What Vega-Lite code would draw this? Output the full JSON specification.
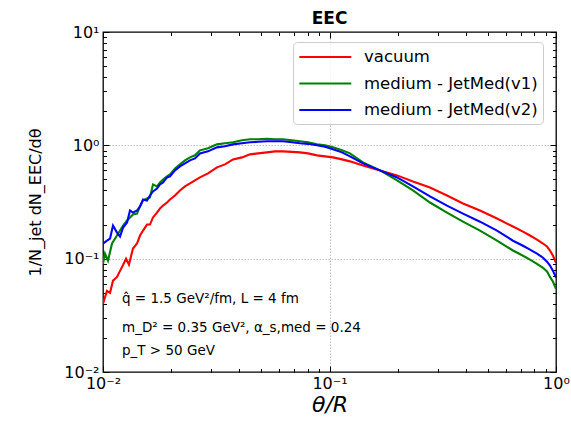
{
  "$schema": "https://vega.github.io/schema/vega-lite/v6.json",
  "width": 453,
  "height": 340,
  "autosize": {"type": "none"},
  "padding": {"left": 103, "top": 32, "right": 15, "bottom": 51},
  "background": "white",
  "config": {
    "font": "DejaVu Sans",
    "view": {"stroke": "black", "strokeWidth": 1.3}
  },
  "title": {"text": "EEC", "fontSize": 17, "fontWeight": "bold", "font": "DejaVu Sans", "color": "black", "offset": -4, "anchor": "middle"},
  "data": {"values": [
    {"t": 0.01, "v": 0.040, "s": "vacuum"},
    {"t": 0.01041, "v": 0.052, "s": "vacuum"},
    {"t": 0.01074, "v": 0.050, "s": "vacuum"},
    {"t": 0.01107, "v": 0.064, "s": "vacuum"},
    {"t": 0.01153, "v": 0.069, "s": "vacuum"},
    {"t": 0.01189, "v": 0.078, "s": "vacuum"},
    {"t": 0.01226, "v": 0.088, "s": "vacuum"},
    {"t": 0.01264, "v": 0.100, "s": "vacuum"},
    {"t": 0.01302, "v": 0.0885, "s": "vacuum"},
    {"t": 0.01356, "v": 0.123, "s": "vacuum"},
    {"t": 0.01413, "v": 0.136, "s": "vacuum"},
    {"t": 0.01457, "v": 0.160, "s": "vacuum"},
    {"t": 0.01502, "v": 0.177, "s": "vacuum"},
    {"t": 0.01564, "v": 0.200, "s": "vacuum"},
    {"t": 0.01612, "v": 0.200, "s": "vacuum"},
    {"t": 0.01662, "v": 0.231, "s": "vacuum"},
    {"t": 0.01731, "v": 0.255, "s": "vacuum"},
    {"t": 0.01785, "v": 0.277, "s": "vacuum"},
    {"t": 0.01841, "v": 0.294, "s": "vacuum"},
    {"t": 0.01917, "v": 0.313, "s": "vacuum"},
    {"t": 0.01976, "v": 0.333, "s": "vacuum"},
    {"t": 0.02079, "v": 0.361, "s": "vacuum"},
    {"t": 0.02187, "v": 0.400, "s": "vacuum"},
    {"t": 0.02301, "v": 0.434, "s": "vacuum"},
    {"t": 0.02421, "v": 0.461, "s": "vacuum"},
    {"t": 0.02547, "v": 0.490, "s": "vacuum"},
    {"t": 0.02680, "v": 0.521, "s": "vacuum"},
    {"t": 0.02908, "v": 0.565, "s": "vacuum"},
    {"t": 0.03186, "v": 0.639, "s": "vacuum"},
    {"t": 0.03456, "v": 0.679, "s": "vacuum"},
    {"t": 0.03749, "v": 0.752, "s": "vacuum"},
    {"t": 0.04109, "v": 0.783, "s": "vacuum"},
    {"t": 0.04457, "v": 0.832, "s": "vacuum"},
    {"t": 0.04834, "v": 0.849, "s": "vacuum"},
    {"t": 0.05296, "v": 0.867, "s": "vacuum"},
    {"t": 0.05744, "v": 0.885, "s": "vacuum"},
    {"t": 0.06231, "v": 0.885, "s": "vacuum"},
    {"t": 0.06830, "v": 0.876, "s": "vacuum"},
    {"t": 0.07408, "v": 0.867, "s": "vacuum"},
    {"t": 0.08035, "v": 0.849, "s": "vacuum"},
    {"t": 0.08807, "v": 0.816, "s": "vacuum"},
    {"t": 0.09553, "v": 0.799, "s": "vacuum"},
    {"t": 0.1036, "v": 0.783, "s": "vacuum"},
    {"t": 0.1135, "v": 0.752, "s": "vacuum"},
    {"t": 0.1231, "v": 0.722, "s": "vacuum"},
    {"t": 0.1405, "v": 0.665, "s": "vacuum"},
    {"t": 0.1671, "v": 0.601, "s": "vacuum"},
    {"t": 0.1987, "v": 0.543, "s": "vacuum"},
    {"t": 0.2336, "v": 0.480, "s": "vacuum"},
    {"t": 0.2777, "v": 0.425, "s": "vacuum"},
    {"t": 0.3302, "v": 0.361, "s": "vacuum"},
    {"t": 0.3885, "v": 0.307, "s": "vacuum"},
    {"t": 0.4618, "v": 0.266, "s": "vacuum"},
    {"t": 0.5489, "v": 0.226, "s": "vacuum"},
    {"t": 0.6457, "v": 0.192, "s": "vacuum"},
    {"t": 0.7149, "v": 0.173, "s": "vacuum"},
    {"t": 0.7676, "v": 0.160, "s": "vacuum"},
    {"t": 0.8243, "v": 0.147, "s": "vacuum"},
    {"t": 0.8761, "v": 0.136, "s": "vacuum"},
    {"t": 0.9126, "v": 0.128, "s": "vacuum"},
    {"t": 0.9408, "v": 0.118, "s": "vacuum"},
    {"t": 0.9700, "v": 0.106, "s": "vacuum"},
    {"t": 1.0, "v": 0.092, "s": "vacuum"},

    {"t": 0.01, "v": 0.090, "s": "medium - JetMed(v1)"},
    {"t": 0.010205, "v": 0.111, "s": "medium - JetMed(v1)"},
    {"t": 0.01052, "v": 0.096, "s": "medium - JetMed(v1)"},
    {"t": 0.01096, "v": 0.136, "s": "medium - JetMed(v1)"},
    {"t": 0.01153, "v": 0.160, "s": "medium - JetMed(v1)"},
    {"t": 0.01189, "v": 0.177, "s": "medium - JetMed(v1)"},
    {"t": 0.01226, "v": 0.196, "s": "medium - JetMed(v1)"},
    {"t": 0.01277, "v": 0.217, "s": "medium - JetMed(v1)"},
    {"t": 0.01316, "v": 0.231, "s": "medium - JetMed(v1)"},
    {"t": 0.01356, "v": 0.245, "s": "medium - JetMed(v1)"},
    {"t": 0.01413, "v": 0.250, "s": "medium - JetMed(v1)"},
    {"t": 0.01457, "v": 0.289, "s": "medium - JetMed(v1)"},
    {"t": 0.01502, "v": 0.326, "s": "medium - JetMed(v1)"},
    {"t": 0.01564, "v": 0.340, "s": "medium - JetMed(v1)"},
    {"t": 0.01612, "v": 0.347, "s": "medium - JetMed(v1)"},
    {"t": 0.01662, "v": 0.452, "s": "medium - JetMed(v1)"},
    {"t": 0.01731, "v": 0.434, "s": "medium - JetMed(v1)"},
    {"t": 0.01785, "v": 0.471, "s": "medium - JetMed(v1)"},
    {"t": 0.01841, "v": 0.500, "s": "medium - JetMed(v1)"},
    {"t": 0.01917, "v": 0.532, "s": "medium - JetMed(v1)"},
    {"t": 0.01976, "v": 0.554, "s": "medium - JetMed(v1)"},
    {"t": 0.02079, "v": 0.626, "s": "medium - JetMed(v1)"},
    {"t": 0.02187, "v": 0.679, "s": "medium - JetMed(v1)"},
    {"t": 0.02301, "v": 0.737, "s": "medium - JetMed(v1)"},
    {"t": 0.02421, "v": 0.783, "s": "medium - JetMed(v1)"},
    {"t": 0.02547, "v": 0.816, "s": "medium - JetMed(v1)"},
    {"t": 0.02680, "v": 0.903, "s": "medium - JetMed(v1)"},
    {"t": 0.02908, "v": 0.941, "s": "medium - JetMed(v1)"},
    {"t": 0.03186, "v": 1.020, "s": "medium - JetMed(v1)"},
    {"t": 0.03456, "v": 1.042, "s": "medium - JetMed(v1)"},
    {"t": 0.03749, "v": 1.063, "s": "medium - JetMed(v1)"},
    {"t": 0.04109, "v": 1.107, "s": "medium - JetMed(v1)"},
    {"t": 0.04457, "v": 1.130, "s": "medium - JetMed(v1)"},
    {"t": 0.04834, "v": 1.130, "s": "medium - JetMed(v1)"},
    {"t": 0.05296, "v": 1.142, "s": "medium - JetMed(v1)"},
    {"t": 0.05744, "v": 1.130, "s": "medium - JetMed(v1)"},
    {"t": 0.06231, "v": 1.130, "s": "medium - JetMed(v1)"},
    {"t": 0.06830, "v": 1.107, "s": "medium - JetMed(v1)"},
    {"t": 0.07408, "v": 1.085, "s": "medium - JetMed(v1)"},
    {"t": 0.08035, "v": 1.063, "s": "medium - JetMed(v1)"},
    {"t": 0.08807, "v": 1.020, "s": "medium - JetMed(v1)"},
    {"t": 0.09553, "v": 1.000, "s": "medium - JetMed(v1)"},
    {"t": 0.1036, "v": 0.960, "s": "medium - JetMed(v1)"},
    {"t": 0.1135, "v": 0.903, "s": "medium - JetMed(v1)"},
    {"t": 0.1231, "v": 0.849, "s": "medium - JetMed(v1)"},
    {"t": 0.1405, "v": 0.707, "s": "medium - JetMed(v1)"},
    {"t": 0.1671, "v": 0.601, "s": "medium - JetMed(v1)"},
    {"t": 0.1987, "v": 0.490, "s": "medium - JetMed(v1)"},
    {"t": 0.2336, "v": 0.400, "s": "medium - JetMed(v1)"},
    {"t": 0.2777, "v": 0.313, "s": "medium - JetMed(v1)"},
    {"t": 0.3302, "v": 0.255, "s": "medium - JetMed(v1)"},
    {"t": 0.3885, "v": 0.212, "s": "medium - JetMed(v1)"},
    {"t": 0.4618, "v": 0.177, "s": "medium - JetMed(v1)"},
    {"t": 0.5489, "v": 0.144, "s": "medium - JetMed(v1)"},
    {"t": 0.6457, "v": 0.118, "s": "medium - JetMed(v1)"},
    {"t": 0.7149, "v": 0.106, "s": "medium - JetMed(v1)"},
    {"t": 0.7676, "v": 0.098, "s": "medium - JetMed(v1)"},
    {"t": 0.8243, "v": 0.090, "s": "medium - JetMed(v1)"},
    {"t": 0.8761, "v": 0.083, "s": "medium - JetMed(v1)"},
    {"t": 0.9126, "v": 0.077, "s": "medium - JetMed(v1)"},
    {"t": 0.9408, "v": 0.069, "s": "medium - JetMed(v1)"},
    {"t": 0.9700, "v": 0.0626, "s": "medium - JetMed(v1)"},
    {"t": 1.0, "v": 0.0543, "s": "medium - JetMed(v1)"},

    {"t": 0.01, "v": 0.136, "s": "medium - JetMed(v2)"},
    {"t": 0.01041, "v": 0.144, "s": "medium - JetMed(v2)"},
    {"t": 0.01074, "v": 0.150, "s": "medium - JetMed(v2)"},
    {"t": 0.01107, "v": 0.196, "s": "medium - JetMed(v2)"},
    {"t": 0.01153, "v": 0.170, "s": "medium - JetMed(v2)"},
    {"t": 0.01189, "v": 0.157, "s": "medium - JetMed(v2)"},
    {"t": 0.01226, "v": 0.188, "s": "medium - JetMed(v2)"},
    {"t": 0.01277, "v": 0.208, "s": "medium - JetMed(v2)"},
    {"t": 0.01316, "v": 0.266, "s": "medium - JetMed(v2)"},
    {"t": 0.01356, "v": 0.255, "s": "medium - JetMed(v2)"},
    {"t": 0.01413, "v": 0.266, "s": "medium - JetMed(v2)"},
    {"t": 0.01457, "v": 0.289, "s": "medium - JetMed(v2)"},
    {"t": 0.01502, "v": 0.333, "s": "medium - JetMed(v2)"},
    {"t": 0.01564, "v": 0.326, "s": "medium - JetMed(v2)"},
    {"t": 0.01612, "v": 0.361, "s": "medium - JetMed(v2)"},
    {"t": 0.01662, "v": 0.392, "s": "medium - JetMed(v2)"},
    {"t": 0.01731, "v": 0.416, "s": "medium - JetMed(v2)"},
    {"t": 0.01785, "v": 0.452, "s": "medium - JetMed(v2)"},
    {"t": 0.01841, "v": 0.471, "s": "medium - JetMed(v2)"},
    {"t": 0.01917, "v": 0.521, "s": "medium - JetMed(v2)"},
    {"t": 0.01976, "v": 0.532, "s": "medium - JetMed(v2)"},
    {"t": 0.02079, "v": 0.601, "s": "medium - JetMed(v2)"},
    {"t": 0.02187, "v": 0.652, "s": "medium - JetMed(v2)"},
    {"t": 0.02301, "v": 0.693, "s": "medium - JetMed(v2)"},
    {"t": 0.02421, "v": 0.737, "s": "medium - JetMed(v2)"},
    {"t": 0.02547, "v": 0.767, "s": "medium - JetMed(v2)"},
    {"t": 0.02680, "v": 0.849, "s": "medium - JetMed(v2)"},
    {"t": 0.02908, "v": 0.885, "s": "medium - JetMed(v2)"},
    {"t": 0.03186, "v": 0.960, "s": "medium - JetMed(v2)"},
    {"t": 0.03456, "v": 0.980, "s": "medium - JetMed(v2)"},
    {"t": 0.03749, "v": 1.020, "s": "medium - JetMed(v2)"},
    {"t": 0.04109, "v": 1.042, "s": "medium - JetMed(v2)"},
    {"t": 0.04457, "v": 1.063, "s": "medium - JetMed(v2)"},
    {"t": 0.04834, "v": 1.074, "s": "medium - JetMed(v2)"},
    {"t": 0.05296, "v": 1.085, "s": "medium - JetMed(v2)"},
    {"t": 0.05744, "v": 1.085, "s": "medium - JetMed(v2)"},
    {"t": 0.06231, "v": 1.085, "s": "medium - JetMed(v2)"},
    {"t": 0.06830, "v": 1.063, "s": "medium - JetMed(v2)"},
    {"t": 0.07408, "v": 1.042, "s": "medium - JetMed(v2)"},
    {"t": 0.08035, "v": 1.031, "s": "medium - JetMed(v2)"},
    {"t": 0.08807, "v": 1.000, "s": "medium - JetMed(v2)"},
    {"t": 0.09553, "v": 0.970, "s": "medium - JetMed(v2)"},
    {"t": 0.1036, "v": 0.922, "s": "medium - JetMed(v2)"},
    {"t": 0.1135, "v": 0.867, "s": "medium - JetMed(v2)"},
    {"t": 0.1231, "v": 0.799, "s": "medium - JetMed(v2)"},
    {"t": 0.1405, "v": 0.693, "s": "medium - JetMed(v2)"},
    {"t": 0.1671, "v": 0.601, "s": "medium - JetMed(v2)"},
    {"t": 0.1987, "v": 0.521, "s": "medium - JetMed(v2)"},
    {"t": 0.2336, "v": 0.434, "s": "medium - JetMed(v2)"},
    {"t": 0.2777, "v": 0.354, "s": "medium - JetMed(v2)"},
    {"t": 0.3302, "v": 0.294, "s": "medium - JetMed(v2)"},
    {"t": 0.3885, "v": 0.250, "s": "medium - JetMed(v2)"},
    {"t": 0.4618, "v": 0.212, "s": "medium - JetMed(v2)"},
    {"t": 0.5489, "v": 0.177, "s": "medium - JetMed(v2)"},
    {"t": 0.6457, "v": 0.144, "s": "medium - JetMed(v2)"},
    {"t": 0.7149, "v": 0.130, "s": "medium - JetMed(v2)"},
    {"t": 0.7676, "v": 0.120, "s": "medium - JetMed(v2)"},
    {"t": 0.8243, "v": 0.111, "s": "medium - JetMed(v2)"},
    {"t": 0.8761, "v": 0.102, "s": "medium - JetMed(v2)"},
    {"t": 0.9126, "v": 0.094, "s": "medium - JetMed(v2)"},
    {"t": 0.9408, "v": 0.087, "s": "medium - JetMed(v2)"},
    {"t": 0.9700, "v": 0.078, "s": "medium - JetMed(v2)"},
    {"t": 1.0, "v": 0.068, "s": "medium - JetMed(v2)"}
  ]},
  "resolve": {"axis": {"x": "independent", "y": "independent"}},
  "layer": [
    {
      "mark": {"type": "line", "strokeWidth": 2.1, "clip": true},
      "encoding": {
        "x": {
          "field": "t", "type": "quantitative",
          "scale": {"type": "log", "domain": [0.01, 1], "nice": false},
          "axis": {
            "orient": "bottom",
            "values": [0.01, 0.02, 0.03, 0.04, 0.05, 0.06, 0.07, 0.08, 0.09, 0.1, 0.2, 0.3, 0.4, 0.5, 0.6, 0.7, 0.8, 0.9, 1],
            "labelExpr": "datum.value === 0.01 ? '10⁻²' : datum.value === 0.1 ? '10⁻¹' : datum.value === 1 ? '10⁰' : ''",
            "labelOverlap": false, "labelFlush": false,
            "labelFontSize": 16, "labelColor": "black", "labelPadding": 9,
            "tickColor": "black", "tickWidth": 1,
            "tickSize": {"condition": {"test": "datum.value === 0.01 || datum.value === 0.1 || datum.value === 1", "value": -6}, "value": -3.5},
            "domain": false,
            "grid": true, "gridColor": "#b0b0b0", "gridDash": [1.5, 1.5], "gridWidth": 0.8,
            "gridOpacity": {"condition": {"test": "datum.value === 0.1", "value": 1}, "value": 0},
            "title": "θ/R", "titleFontSize": 22, "titleFontStyle": "italic", "titleFontWeight": "normal", "titleColor": "black", "titlePadding": 1
          }
        },
        "y": {
          "field": "v", "type": "quantitative",
          "scale": {"type": "log", "domain": [0.01, 10], "nice": false},
          "axis": {
            "orient": "left",
            "values": [0.01, 0.02, 0.03, 0.04, 0.05, 0.06, 0.07, 0.08, 0.09, 0.1, 0.2, 0.3, 0.4, 0.5, 0.6, 0.7, 0.8, 0.9, 1, 2, 3, 4, 5, 6, 7, 8, 9, 10],
            "labelExpr": "datum.value === 0.01 ? '10⁻²' : datum.value === 0.1 ? '10⁻¹' : datum.value === 1 ? '10⁰' : datum.value === 10 ? '10¹' : ''",
            "labelOverlap": false, "labelFlush": false,
            "labelFontSize": 16, "labelColor": "black", "labelPadding": 10,
            "tickColor": "black", "tickWidth": 1,
            "tickSize": {"condition": {"test": "datum.value === 0.01 || datum.value === 0.1 || datum.value === 1 || datum.value === 10", "value": -6}, "value": -3.5},
            "domain": false,
            "grid": true, "gridColor": "#b0b0b0", "gridDash": [1.5, 1.5], "gridWidth": 0.8,
            "gridOpacity": {"condition": {"test": "datum.value === 0.1 || datum.value === 1", "value": 1}, "value": 0},
            "title": "1/N_jet dN_EEC/dθ", "titleFontSize": 16, "titleFontWeight": "normal", "titleColor": "black", "titlePadding": 20
          }
        },
        "color": {
          "field": "s", "type": "nominal",
          "scale": {"domain": ["vacuum", "medium - JetMed(v1)", "medium - JetMed(v2)"], "range": ["#ff0000", "#008000", "#0000ff"]},
          "legend": {
            "title": null, "orient": "none", "legendX": 190, "legendY": 10,
            "symbolType": "M-1,0H5", "symbolSize": 300, "symbolStrokeWidth": 2.2, "symbolOffset": 0,
            "labelFontSize": 16.5, "labelColor": "black", "labelOffset": 46, "labelLimit": 400,
            "rowPadding": 7.5, "padding": 5,
            "fillColor": "rgba(255,255,255,0.8)", "strokeColor": "#cccccc", "cornerRadius": 4
          }
        },
        "detail": {"field": "s"}
      }
    },
    {
      "mark": {"type": "line", "strokeOpacity": 0},
      "encoding": {
        "x": {
          "field": "t", "type": "quantitative",
          "scale": {"type": "log", "domain": [0.01, 1], "nice": false},
          "axis": {
            "orient": "top",
            "values": [0.01, 0.02, 0.03, 0.04, 0.05, 0.06, 0.07, 0.08, 0.09, 0.1, 0.2, 0.3, 0.4, 0.5, 0.6, 0.7, 0.8, 0.9, 1],
            "labels": false, "domain": false, "grid": false, "title": null,
            "tickColor": "black", "tickWidth": 1,
            "tickSize": {"condition": {"test": "datum.value === 0.01 || datum.value === 0.1 || datum.value === 1", "value": -6}, "value": -3.5}
          }
        },
        "y": {
          "field": "v", "type": "quantitative",
          "scale": {"type": "log", "domain": [0.01, 10], "nice": false},
          "axis": {
            "orient": "right",
            "values": [0.01, 0.02, 0.03, 0.04, 0.05, 0.06, 0.07, 0.08, 0.09, 0.1, 0.2, 0.3, 0.4, 0.5, 0.6, 0.7, 0.8, 0.9, 1, 2, 3, 4, 5, 6, 7, 8, 9, 10],
            "labels": false, "domain": false, "grid": false, "title": null,
            "tickColor": "black", "tickWidth": 1,
            "tickSize": {"condition": {"test": "datum.value === 0.01 || datum.value === 0.1 || datum.value === 1 || datum.value === 10", "value": -6}, "value": -3.5}
          }
        },
        "detail": {"field": "s"}
      }
    },
    {
      "data": {"values": [
        {"x": 0.01213, "y": 0.0443, "label": "q̂ = 1.5 GeV²/fm, L = 4 fm"},
        {"x": 0.01213, "y": 0.0245, "label": "m_D² = 0.35 GeV², α_s,med = 0.24"},
        {"x": 0.01213, "y": 0.0153, "label": "p_T > 50 GeV"}
      ]},
      "mark": {"type": "text", "align": "left", "baseline": "middle", "fontSize": 13.5, "color": "black"},
      "encoding": {
        "x": {"field": "x", "type": "quantitative", "scale": {"type": "log", "domain": [0.01, 1], "nice": false}, "axis": null},
        "y": {"field": "y", "type": "quantitative", "scale": {"type": "log", "domain": [0.01, 10], "nice": false}, "axis": null},
        "text": {"field": "label"}
      }
    }
  ]
}
